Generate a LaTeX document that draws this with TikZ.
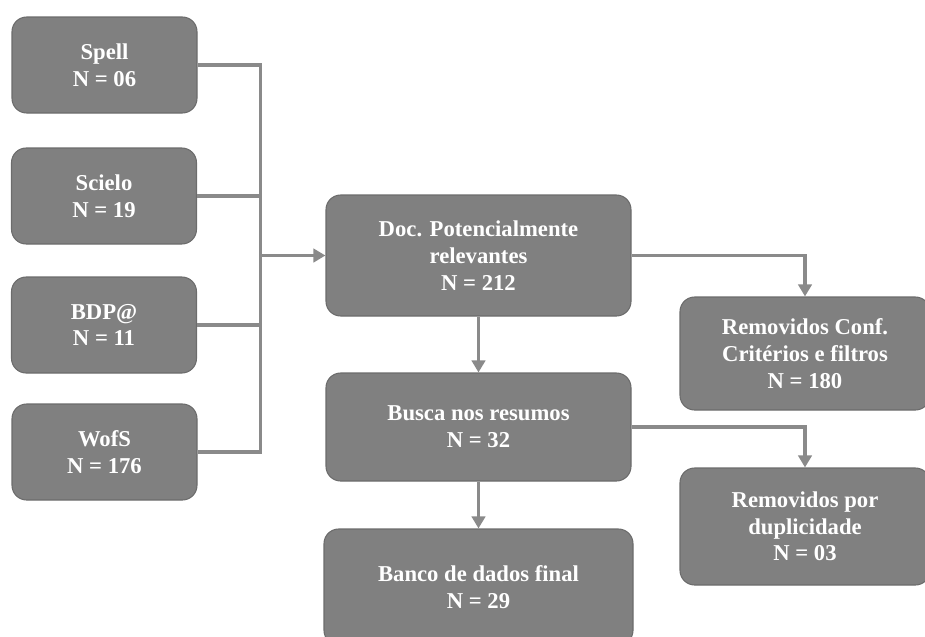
\documentclass[tikz,border=0pt]{standalone}
\usepackage{fontspec}
\setmainfont{Liberation Serif}
\usetikzlibrary{arrows.meta}

\definecolor{boxfill}{HTML}{808080}
\definecolor{boxline}{HTML}{6C6C6C}
\definecolor{wire}{HTML}{8A8A8A}

\tikzset{
  stagebox/.style={draw=boxline, line width=0.8pt, fill=boxfill, rounded corners=11pt,
    text=white, align=center, font=\fontsize{17}{20}\selectfont\bfseries,
    inner sep=0pt},
  srcbox/.style={stagebox, minimum width=138.75pt, minimum height=72pt},
  midbox/.style={stagebox, minimum width=228.75pt},
  outbox/.style={stagebox, minimum width=187.5pt},
  wireline/.style={draw=wire, line width=2.4pt},
  wirearrow/.style={wireline, -{Triangle[length=9pt,width=10pt]}}
}

\begin{document}
\begin{tikzpicture}[x=0.75pt, y=-0.75pt]
  \useasboundingbox (0,0) rectangle (925,636);

  \node[srcbox] (spell) at (104.5, 65) {Spell\\N = 06};
  \node[srcbox] (scielo) at (104, 196) {Scielo\\N = 19};
  \node[srcbox] (bdp) at (104, 325) {BDP@\\N = 11};
  \node[srcbox] (wofs) at (104.5, 452) {WofS\\N = 176};

  \node[midbox, minimum height=90.75pt] (doc) at (478.5, 255.5) {Doc. Potencialmente\\relevantes\\N = 212};
  \node[midbox, minimum height=81pt] (busca) at (478.5, 427) {Busca nos resumos\\N = 32};
  \node[midbox, minimum width=231.75pt, minimum height=87pt] (banco) at (478.5, 587) {Banco de dados final\\N = 29};

  \node[outbox, minimum height=84.75pt] (remconf) at (805, 353.5) {Removidos Conf.\\Critérios e filtros\\N = 180};
  \node[outbox, minimum height=87.75pt] (remdup) at (805, 526.5) {Removidos por\\duplicidade\\N = 03};

  \path (doc.west) ++(-65,0) coordinate (join);

  \draw[wireline] (spell.east) -| (join);
  \draw[wireline] (scielo.east) -| (join);
  \draw[wireline] (bdp.east) -| (join);
  \draw[wireline] (wofs.east) -| (join);
  \draw[wirearrow] (join) -- (doc.west);

  \draw[wirearrow] (doc.east) -| (remconf.north);
  \draw[wirearrow] (doc.south) -- (busca.north);
  \draw[wirearrow] (busca.east) -| (remdup.north);
  \draw[wirearrow] (busca.south) -- (banco.north);
\end{tikzpicture}
\end{document}
